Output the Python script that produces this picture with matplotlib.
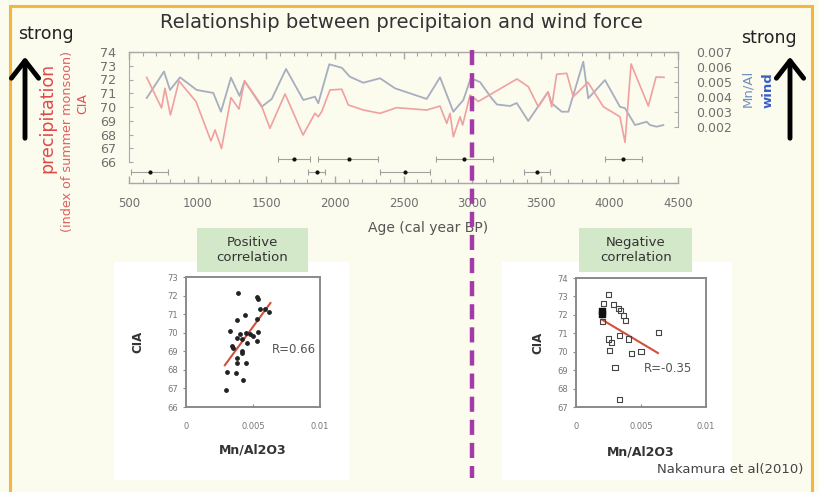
import matplotlib
matplotlib.use('Agg')
import matplotlib.pyplot as plt
from matplotlib.patches import Rectangle, FancyArrowPatch
import numpy as np

# ---------------- data ----------------
cia_age = [629, 737, 762, 802, 864, 988, 1097, 1127, 1174, 1243, 1301, 1342, 1462, 1527, 1637,
           1768, 1855, 1879, 1904, 1964, 2050, 2098, 2207, 2329, 2450, 2669, 2766, 2815, 2839, 2863,
           2912, 2931, 2985, 3045, 3327, 3409, 3482, 3553, 3580, 3616, 3689, 3737, 3844, 3956, 4077,
           4114, 4158, 4284, 4340, 4398]
cia_val = [72.15, 69.93, 71.36, 69.42, 71.89, 70.4, 67.53, 68.33, 66.98, 70.68, 69.85, 71.89, 70.18, 68.45, 70.95,
           67.96, 69.54, 69.29, 69.66, 71.24, 71.29, 70.15, 69.78, 69.54, 69.95, 69.78, 70.07, 68.81, 69.54, 67.84,
           69.29, 68.69, 70.87, 70.4, 72.04, 71.48, 70.02, 71.09, 70.02, 72.38, 72.45, 70.75, 71.8, 70.02, 69.29,
           67.43, 73.13, 70.07, 72.18, 72.16]

mn_age = [629, 755, 799, 872, 993, 1114, 1170, 1243, 1305, 1342, 1467, 1540, 1644, 1770, 1855,
          1879, 1959, 2050, 2110, 2207, 2329, 2438, 2669, 2766, 2863, 2936, 2990, 3057, 3143, 3181,
          3276, 3325, 3409, 3553, 3580, 3653, 3701, 3810, 3846, 3968, 4077, 4114, 4187, 4272, 4296,
          4345, 4393]
mn_val = [0.00393, 0.0057, 0.00447, 0.00531, 0.00447, 0.00427, 0.00302, 0.00529, 0.00407, 0.00507,
          0.00335, 0.00387, 0.00587, 0.0038, 0.00402, 0.00358, 0.00618, 0.00595, 0.00535, 0.00495,
          0.00525, 0.00458, 0.00387, 0.00531, 0.00302, 0.0038, 0.00525, 0.005, 0.00391, 0.0035,
          0.0034, 0.0036, 0.0024, 0.00433, 0.00358, 0.00302, 0.00302, 0.00635, 0.00391, 0.00513,
          0.00335, 0.00325, 0.00213, 0.00235, 0.00213, 0.00202, 0.00213]

# radiocarbon age control points (two rows)
ctrl1_age = [1700, 2100, 2940, 4100]
ctrl1_lo = [115, 220, 205, 130]
ctrl1_hi = [120, 215, 215, 140]
ctrl2_age = [650, 1870, 2510, 3475]
ctrl2_lo = [135, 65, 180, 95]
ctrl2_hi = [135, 60, 185, 90]

age_ticks = [500, 1000, 1500, 2000, 2500, 3000, 3500, 4000, 4500]
cia_ticks = [66, 67, 68, 69, 70, 71, 72, 73, 74]
mn_ticks = [0.002, 0.003, 0.004, 0.005, 0.006, 0.007]

# positive correlation scatter
pos_x = [0.0039, 0.00527, 0.00535, 0.00552, 0.0059, 0.0062, 0.0044, 0.00378, 0.00532, 0.00328,
         0.00403, 0.00448, 0.00478, 0.00535, 0.00383, 0.00415, 0.00498, 0.00527, 0.00453, 0.00346,
         0.00353, 0.00415, 0.00415, 0.00383, 0.00383, 0.00448, 0.00308, 0.00373, 0.00428, 0.00296]
pos_y = [72.15, 71.9, 71.8, 71.26, 71.26, 71.13, 70.95, 70.68, 70.72, 70.1,
         69.93, 70.0, 69.93, 70.05, 69.7, 69.65, 69.82, 69.57, 69.46, 69.28,
         69.16, 69.03, 68.9, 68.66, 68.39, 68.39, 67.9, 67.81, 67.45, 66.91]
pos_fit_x = [0.0029, 0.0063]
pos_fit_y = [68.25, 71.6]
pos_r = "R=0.66"

# negative correlation scatter
neg_x = [0.00249, 0.00215, 0.00292, 0.00325, 0.00344, 0.00364, 0.00377, 0.00202, 0.00633,
         0.00249, 0.00275, 0.00338, 0.00402, 0.00254, 0.00428, 0.005, 0.003, 0.00333]
neg_y = [73.09, 72.64, 72.55, 72.37, 72.24, 71.95, 71.7, 71.65, 71.05,
         70.69, 70.5, 70.87, 70.69, 70.06, 69.88, 69.99, 69.17, 67.4]
negf_x = [0.00202, 0.00202]
negf_y = [72.19, 72.05]
neg_fit_x = [0.0020, 0.0063]
neg_fit_y = [71.74, 69.93]
neg_r = "R=-0.35"

# ---------------- style ----------------
W, H = 819, 492
BG = '#fbfbee'
SPINE = '#a8a8a8'
TICKC = '#707070'
RED = '#f0a0a0'
BLUE = '#a6aec0'

fig = plt.figure(figsize=(W / 100, H / 100), dpi=100, facecolor=BG)


def px_axes(x0, y0, x1, y1, **kw):
    return fig.add_axes([x0 / W, 1 - y1 / H, (x1 - x0) / W, (y1 - y0) / H], **kw)


def ftext(x, y, s, **kw):
    kw.setdefault('ha', 'center')
    kw.setdefault('va', 'center')
    return fig.text(x / W, 1 - y / H, s, **kw)


def frect(x0, y0, x1, y1, **kw):
    r = Rectangle((x0 / W, 1 - y1 / H), (x1 - x0) / W, (y1 - y0) / H,
                  transform=fig.transFigure, **kw)
    fig.add_artist(r)
    return r


# border
frect(10, 6, 812, 520, facecolor='none', edgecolor='#f5b73b', lw=2.2, zorder=-2)

# white panels & green labels
frect(114, 262, 349, 480, facecolor='white', edgecolor='none', zorder=-1)
frect(502, 262, 732, 480, facecolor='white', edgecolor='none', zorder=-1)
frect(197, 228, 308, 272, facecolor='#d2e8c8', edgecolor='none', zorder=1)
frect(579, 228, 692, 272, facecolor='#d2e8c8', edgecolor='none', zorder=1)
ftext(252, 250, "Positive\ncorrelation", fontsize=9.5, color='#333333', linespacing=1.25)
ftext(636, 250, "Negative\ncorrelation", fontsize=9.5, color='#333333', linespacing=1.25)

# title and side annotations
ftext(401, 22, "Relationship between precipitaion and wind force", fontsize=14, color='#333333')
ftext(46, 34, "strong", fontsize=12.5, color='#222222')
ftext(769, 38, "strong", fontsize=12.5, color='#222222')
ftext(47, 118, "precipitation", fontsize=12.5, color='#e04848', rotation=90)
ftext(67, 142, "(index of summer monsoon)", fontsize=9.2, color='#e06060', rotation=90)
ftext(83, 104, "CIA", fontsize=9, color='#e05050', rotation=90)
ftext(748, 88, "Mn/Al", fontsize=9.5, color='#7090c0', rotation=90)
ftext(768, 90, "wind", fontsize=9.5, color='#3a5fc8', rotation=90, fontweight='bold')
ftext(730, 470, "Nakamura et al(2010)", fontsize=9.5, color='#444444')

for xa in (25, 790):
    arr = FancyArrowPatch((xa / W, 1 - 141 / H), (xa / W, 1 - 54 / H), transform=fig.transFigure,
                          arrowstyle='->,head_length=0.45,head_width=0.35', mutation_scale=28,
                          lw=3.5, color='black', zorder=3)
    fig.add_artist(arr)

# ---------------- top time-series ----------------
ax0 = px_axes(129, 52, 678, 183, zorder=5)
ax0.set_xlim(500, 4500)
ax0.set_ylim(0, 1)
ax0.patch.set_alpha(0)
for s in ('left', 'right'):
    ax0.spines[s].set_visible(False)
for s in ('top', 'bottom'):
    ax0.spines[s].set_color(SPINE)
    ax0.spines[s].set_linewidth(1.0)
ax0.set_xticks(age_ticks)
ax0.set_xticklabels([str(a) for a in age_ticks])
ax0.set_xticks(np.arange(500, 4501, 100), minor=True)
ax0.tick_params(axis='x', which='both', direction='in', top=True, bottom=True,
                color=SPINE, labelcolor=TICKC, labelsize=8.5, pad=10)
ax0.tick_params(axis='x', which='major', length=5, width=1)
ax0.tick_params(axis='x', which='minor', length=3, width=0.8)
ax0.set_yticks([])
ax0.set_xlabel("Age (cal year BP)", fontsize=10, color='#555555')
ax0.xaxis.set_label_coords((428 - 129) / 549, (183 - 228) / 131)
ax0.xaxis.label.set_va('center')

ax0.errorbar(ctrl1_age, [0.183] * len(ctrl1_age), xerr=[ctrl1_lo, ctrl1_hi], fmt='o', ms=2.0,
             color='#111111', ecolor='#a0a0a0', elinewidth=0.8, capsize=2, capthick=0.8)
ax0.errorbar(ctrl2_age, [0.084] * len(ctrl2_age), xerr=[ctrl2_lo, ctrl2_hi], fmt='o', ms=2.0,
             color='#111111', ecolor='#a0a0a0', elinewidth=0.8, capsize=2, capthick=0.8)

# boundary at 3000 cal BP
ax0.plot([3000, 3000], [(183 - 50) / 131, (183 - 478) / 131], transform=ax0.get_xaxis_transform(),
         color='#a23aa8', lw=3.2, linestyle=(0, (3.4, 1.8)), clip_on=False, zorder=10)

# CIA axis
ax1 = px_axes(129, 52, 678, 162, zorder=3)
ax1.patch.set_alpha(0)
ax1.set_xlim(500, 4500)
ax1.set_ylim(66, 74)
for s in ('top', 'right', 'bottom'):
    ax1.spines[s].set_visible(False)
ax1.spines['left'].set_color(SPINE)
ax1.set_xticks([])
ax1.set_yticks(cia_ticks)
ax1.tick_params(axis='y', direction='in', length=3, color=SPINE, labelcolor=TICKC,
                labelsize=9.2, pad=9)
ax1.plot(cia_age, cia_val, color=RED, lw=1.2, zorder=3)

# Mn/Al axis
ax2 = px_axes(129, 52, 678, 127, zorder=2)
ax2.patch.set_alpha(0)
ax2.set_xlim(500, 4500)
ax2.set_ylim(0.002, 0.007)
for s in ('top', 'left', 'bottom'):
    ax2.spines[s].set_visible(False)
ax2.spines['right'].set_color(SPINE)
ax2.set_xticks([])
ax2.yaxis.tick_right()
ax2.set_yticks(mn_ticks)
ax2.set_yticklabels([f"{v:.3f}" for v in mn_ticks])
ax2.tick_params(axis='y', direction='in', length=3, color=SPINE, labelcolor=TICKC,
                labelsize=9, pad=13)
ax2.plot(mn_age, mn_val, color=BLUE, lw=1.3, clip_on=False)

# ---------------- scatter plots ----------------
def style_scatter(ax, ylo, yhi):
    ax.set_facecolor('white')
    ax.set_xlim(0, 0.01)
    ax.set_ylim(ylo, yhi)
    for s in ax.spines.values():
        s.set_color('#8a8a8a')
        s.set_linewidth(1.4)
    ax.set_yticks(list(range(ylo, yhi + 1)))
    ax.set_xticks([0, 0.005, 0.01])
    ax.set_xticklabels(['0', '0.005', '0.01'])
    ax.tick_params(axis='y', direction='out', length=2.5, color='#8a8a8a', labelcolor='#777777',
                   labelsize=6, pad=3)
    ax.tick_params(axis='x', direction='in', length=2.5, color='#8a8a8a', labelcolor='#777777',
                   labelsize=6, pad=11)


axp = px_axes(186, 277, 320, 407)
style_scatter(axp, 66, 73)
axp.scatter(pos_x, pos_y, s=6, color='#222222', zorder=3)
axp.plot(pos_fit_x, pos_fit_y, color='#d0503c', lw=1.5, zorder=2)
axp.text(0.0064, 69.08, pos_r, fontsize=8.5, color='#555555', ha='left', va='center')
axp.set_xlabel("Mn/Al2O3", fontsize=9, fontweight='bold', color='#333333')
axp.xaxis.set_label_coords(0.5, (407 - 450) / 130)
axp.xaxis.label.set_va('center')
axp.set_ylabel("CIA", fontsize=8.5, fontweight='bold', color='#333333')
axp.yaxis.set_label_coords((138 - 186) / 134, 0.5)
axp.yaxis.label.set_va('center')

axn = px_axes(576, 278, 706, 407)
style_scatter(axn, 67, 74)
axn.scatter(neg_x, neg_y, s=13, marker='s', facecolors='none', edgecolors='#444444',
            linewidths=0.8, zorder=3)
axn.scatter(negf_x, negf_y, s=20, marker='s', color='#111111', zorder=3)
axn.plot(neg_fit_x, neg_fit_y, color='#d0503c', lw=1.5, zorder=2)
axn.text(0.0052, 69.07, neg_r, fontsize=8.5, color='#555555', ha='left', va='center')
axn.set_xlabel("Mn/Al2O3", fontsize=9, fontweight='bold', color='#333333')
axn.xaxis.set_label_coords(0.5, (407 - 452) / 129)
axn.xaxis.label.set_va('center')
axn.set_ylabel("CIA", fontsize=8.5, fontweight='bold', color='#333333')
axn.yaxis.set_label_coords((538 - 576) / 130, 0.5)
axn.yaxis.label.set_va('center')

fig.savefig('out.png', dpi=100, facecolor=BG)
